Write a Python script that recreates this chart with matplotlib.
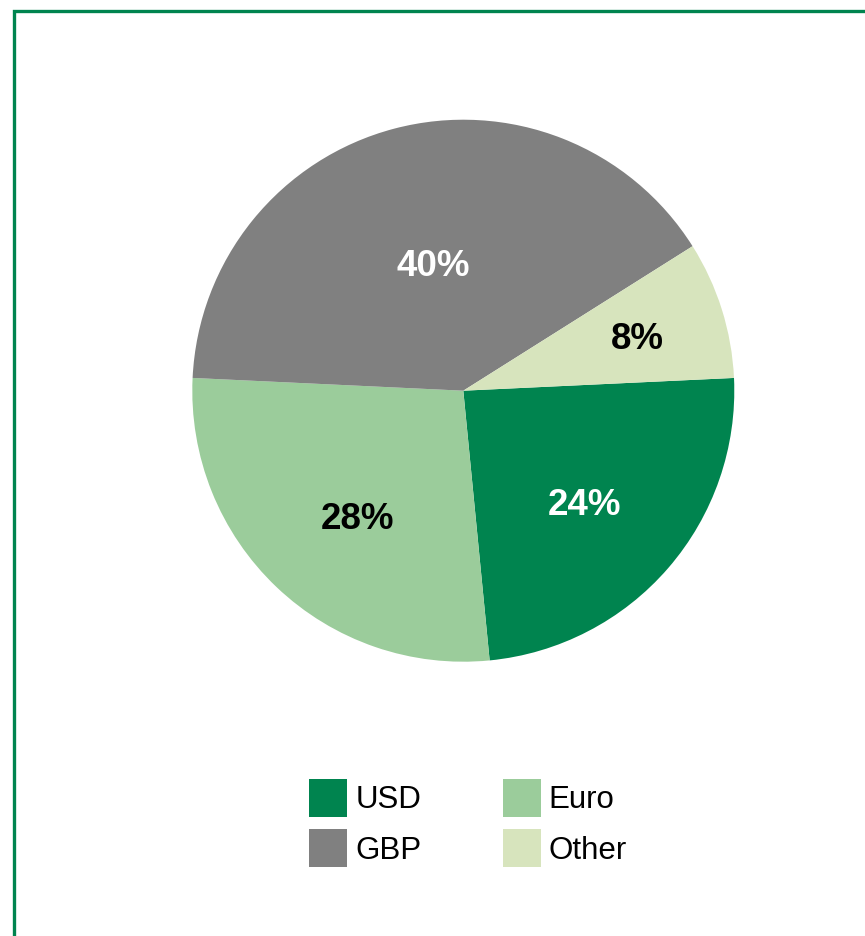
import numpy as np
import matplotlib
matplotlib.use("Agg")
import matplotlib.pyplot as plt
from matplotlib.patches import Rectangle, Patch

# currency split (shares)
currencies = ["USD", "Euro", "GBP", "Other"]
shares = [24.2, 27.3, 40.3, 8.2]
pct_labels = ["24%", "28%", "40%", "8%"]
colors = ["#00844F", "#9BCC9B", "#808080", "#D7E4BD"]
label_colors = ["white", "black", "white", "black"]
# label placement inside each wedge: radius fraction, angle nudge (deg)
label_radius = [0.607, 0.604, 0.487, 0.675]
label_nudge = [-1.5, 3.5, -1.75, 0.0]

plt.rcParams["font.family"] = ["Liberation Sans", "DejaVu Sans"]

W, H = 865, 936
fig = plt.figure(figsize=(W / 100, H / 100), dpi=100)

# green frame, running off the right and bottom edges
fig.patches.append(Rectangle((13.5 / W, -0.1), 1.2, 1.1 - 11 / H,
                             transform=fig.transFigure, fill=False,
                             edgecolor="#00844F", linewidth=2.4))

# pie axes: centre (463, 391) px, radius 271 px
cx, cy, r = 463.3, 390.7, 271
ax = fig.add_axes([(cx - r) / W, (H - cy - r) / H, 2 * r / W, 2 * r / H])
wedges, _ = ax.pie(shares, colors=colors, startangle=2.7, counterclock=False,
                   radius=1, wedgeprops=dict(linewidth=0))
ax.set_xlim(-1, 1)
ax.set_ylim(-1, 1)
ax.set_aspect("equal")
ax.axis("off")

for w, txt, c, rf, dn in zip(wedges, pct_labels, label_colors,
                             label_radius, label_nudge):
    mid = np.deg2rad((w.theta1 + w.theta2) / 2 + dn)
    ax.text(rf * np.cos(mid), rf * np.sin(mid), txt, ha="center",
            va="center_baseline", fontsize=26.5, fontweight="bold", color=c)

# legend: column 1 USD/GBP, column 2 Euro/Other
order = [0, 2, 1, 3]
handles = [Patch(facecolor=colors[i], edgecolor="none") for i in order]
labels = [currencies[i] for i in order]
fig.legend(handles, labels, loc="center", bbox_to_anchor=(468 / W, 1 - 823 / H),
           ncol=2, frameon=False, fontsize=22.5, handlelength=1.22,
           handleheight=1.5, handletextpad=0.26, columnspacing=2.6,
           labelspacing=0.4, borderpad=0)

fig.savefig("out.png", dpi=100)
